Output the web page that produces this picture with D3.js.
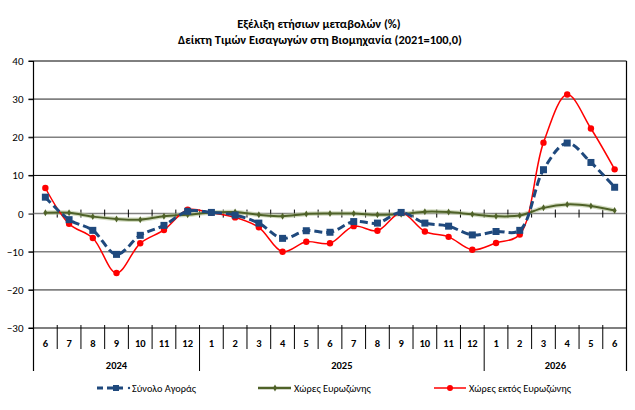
<!DOCTYPE html>
<meta charset="utf-8">
<head>
  <style>
    body {margin: 0; background-color: #ffffff;}
    text {font-family: Carlito, "Liberation Sans", Arial, sans-serif;}
  </style>
  <title></title>
</head>
<body>
<script src="https://d3js.org/d3.v7.min.js"></script>
<script>

  // month labels, year groups (first index, last index)
  const months = ["6","7","8","9","10","11","12","1","2","3","4","5","6","7","8","9","10","11","12","1","2","3","4","5","6"];
  const years = [
    {label: "2024", from: 0, to: 6},
    {label: "2025", from: 7, to: 18},
    {label: "2026", from: 19, to: 24}
  ];
  const yTicks = [40, 30, 20, 10, 0, -10, -20, -30];

  const totalMarket = [4.3, -1.6, -4.4, -10.7, -5.7, -3.1, 0.6, 0.3, -0.4, -2.5, -6.5, -4.5, -4.9, -2.1, -2.5, 0.3, -2.5, -3.3, -5.6, -4.7, -4.4, 11.5, 18.5, 13.4, 6.9];
  const euroZone = [0.2, 0.2, -0.8, -1.4, -1.6, -0.7, -0.3, 0.3, 0.4, -0.3, -0.7, -0.1, 0.0, 0.0, -0.3, -0.2, 0.5, 0.4, -0.2, -0.7, -0.5, 1.5, 2.4, 2.0, 0.8];
  const nonEuroZone = [6.7, -2.7, -6.4, -15.6, -7.8, -4.3, 1.0, 0.2, -1.0, -3.6, -10.0, -7.4, -7.8, -3.3, -4.5, 0.2, -4.7, -6.1, -9.5, -7.7, -5.5, 18.6, 31.2, 22.3, 11.6];

  const W = 635, H = 410;
  const plotL = 33.5, plotR = 626.5, plotT = 61, plotB = 328;

  const svg = d3.select("body").append("svg")
    .attr("width", W).attr("height", H);

  const x = d3.scaleBand().domain(d3.range(months.length)).range([plotL, plotR]);
  const y = d3.scaleLinear().domain([-30, 40]).range([plotB, plotT]);
  const cx = i => x(i) + x.bandwidth() / 2;

  // title
  svg.append("text").attr("x", 319).attr("y", 28).attr("text-anchor", "middle")
    .attr("font-size", 12.4).attr("font-weight", "bold").text("Εξέλιξη ετήσιων μεταβολών (%)");
  svg.append("text").attr("x", 320).attr("y", 44).attr("text-anchor", "middle")
    .attr("font-size", 12.4).attr("font-weight", "bold").text("Δείκτη Τιμών Εισαγωγών στη Βιομηχανία (2021=100,0)");

  // gridlines
  svg.append("g").selectAll("line").data(yTicks.filter(d => d !== 0 && d !== -30)).enter()
    .append("line")
    .attr("x1", plotL - 5).attr("x2", plotR)
    .attr("y1", d => y(d)).attr("y2", d => y(d))
    .attr("stroke", d => (d === 40 || d === 10) ? "#000" : "#808080")
    .attr("stroke-width", d => (d === 40 || d === 10) ? 1 : 1.6);

  // y axis
  const yAxis = svg.append("g").attr("transform", "translate(" + plotL + ",0)")
    .call(d3.axisLeft(y).tickValues(yTicks).tickSize(5).tickFormat(d3.format("d")));
  yAxis.select(".domain").remove();
  yAxis.selectAll("line").attr("stroke", "#000");
  yAxis.selectAll("text").attr("font-size", 11).attr("fill", "#000").attr("x", -10);
  svg.append("line").attr("x1", plotL).attr("x2", plotL).attr("y1", plotT).attr("y2", 371)
    .attr("stroke", "#000").attr("stroke-width", 1.2);
  svg.append("line").attr("x1", plotR).attr("x2", plotR).attr("y1", plotT).attr("y2", 371)
    .attr("stroke", "#000").attr("stroke-width", 1.2);

  // bottom category axis
  svg.append("line").attr("x1", plotL - 5).attr("x2", plotR).attr("y1", plotB).attr("y2", plotB)
    .attr("stroke", "#000").attr("stroke-width", 1.2);
  svg.append("g").selectAll("line").data(d3.range(1, months.length)).enter()
    .append("line")
    .attr("x1", i => x(i)).attr("x2", i => x(i))
    .attr("y1", plotB - 3)
    .attr("y2", i => years.some(yr => yr.from === i) ? 371 : 349)
    .attr("stroke", "#000");
  svg.append("g").selectAll("text").data(months).enter()
    .append("text")
    .attr("x", (d, i) => cx(i)).attr("y", 347)
    .attr("text-anchor", "middle").attr("font-size", 10.5).attr("font-weight", "bold")
    .text(d => d);
  svg.append("g").selectAll("text").data(years).enter()
    .append("text")
    .attr("x", d => (x(d.from) + x(d.to) + x.bandwidth()) / 2).attr("y", 369)
    .attr("text-anchor", "middle").attr("font-size", 10.5).attr("font-weight", "bold")
    .text(d => d.label);

  // zero line with ticks
  svg.append("line").attr("x1", plotL).attr("x2", plotR).attr("y1", y(0)).attr("y2", y(0))
    .attr("stroke", "#808080").attr("stroke-width", 1.6);
  svg.append("g").selectAll("line").data(d3.range(1, months.length)).enter()
    .append("line")
    .attr("x1", i => x(i)).attr("x2", i => x(i))
    .attr("y1", y(0) - 4).attr("y2", y(0) + 4)
    .attr("stroke", "#000");

  const line = d3.line().x((d, i) => cx(i)).y(d => y(d)).curve(d3.curveCatmullRom.alpha(0.5));

  // euro zone (olive)
  svg.append("path").datum(euroZone).attr("d", line).attr("fill", "none")
    .attr("stroke", "#b5c49a").attr("stroke-width", 4.5).attr("opacity", 0.6);
  svg.append("path").datum(euroZone).attr("d", line).attr("fill", "none")
    .attr("stroke", "#4f6228").attr("stroke-width", 2);
  svg.append("g").selectAll("path").data(euroZone).enter()
    .append("path")
    .attr("transform", (d, i) => "translate(" + cx(i) + "," + y(d) + ")")
    .attr("d", d3.symbol().type(d3.symbolDiamond).size(14))
    .attr("fill", "#4f6228");

  // non euro zone (red)
  svg.append("path").datum(nonEuroZone).attr("d", line).attr("fill", "none")
    .attr("stroke", "#ff0000").attr("stroke-width", 1.5);
  svg.append("g").selectAll("circle").data(nonEuroZone).enter()
    .append("circle")
    .attr("cx", (d, i) => cx(i)).attr("cy", d => y(d)).attr("r", 3.2)
    .attr("fill", "#ff0000");

  // total market (blue dashed)
  svg.append("path").datum(totalMarket).attr("d", line).attr("fill", "none")
    .attr("stroke", "#1f497d").attr("stroke-width", 3).attr("stroke-dasharray", "8,4");
  svg.append("g").selectAll("rect").data(totalMarket).enter()
    .append("rect")
    .attr("x", (d, i) => cx(i) - 3.5).attr("y", d => y(d) - 3.5)
    .attr("width", 7).attr("height", 7)
    .attr("fill", "#1f497d");

  // legend
  const legY = 388;
  const leg = svg.append("g");
  leg.append("line").attr("x1", 97).attr("x2", 126).attr("y1", legY).attr("y2", legY)
    .attr("stroke", "#1f497d").attr("stroke-width", 3).attr("stroke-dasharray", "6,4");
  leg.append("rect").attr("x", 113).attr("y", legY - 3).attr("width", 6).attr("height", 6).attr("fill", "#1f497d");
  leg.append("circle").attr("cx", 129).attr("cy", legY).attr("r", 1.2).attr("fill", "#1f497d");
  leg.append("text").attr("x", 132).attr("y", legY + 3.5).attr("font-size", 10.3).text("Σύνολο Αγοράς");

  leg.append("line").attr("x1", 258).attr("x2", 291).attr("y1", legY).attr("y2", legY)
    .attr("stroke", "#4f6228").attr("stroke-width", 2.5);
  leg.append("path").attr("transform", "translate(275," + legY + ")")
    .attr("d", d3.symbol().type(d3.symbolDiamond).size(14)).attr("fill", "#4f6228");
  leg.append("text").attr("x", 294).attr("y", legY + 3.5).attr("font-size", 10.3).text("Χώρες Ευρωζώνης");

  leg.append("line").attr("x1", 434).attr("x2", 466).attr("y1", legY).attr("y2", legY)
    .attr("stroke", "#ff0000").attr("stroke-width", 1.5);
  leg.append("circle").attr("cx", 450).attr("cy", legY).attr("r", 3).attr("fill", "#ff0000");
  leg.append("text").attr("x", 469).attr("y", legY + 3.5).attr("font-size", 10.3).text("Χώρες εκτός Ευρωζώνης");

</script>
</body>
</html>
